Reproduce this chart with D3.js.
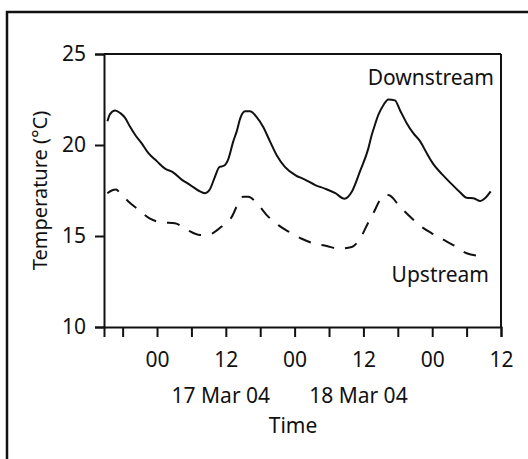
<!DOCTYPE html>
<html>
<head>
<meta charset="utf-8">
<script src="https://cdn.jsdelivr.net/npm/d3@7"></script>
<style>
  body { margin: 0; background: #fff; }
  svg text { font-family: "Noto Sans", sans-serif; fill: #111; }
</style>
</head>
<body>
<script>

// hours from 17 Mar 2004 00:00, temperature in degrees C
var downHours = [-8.65, -8.2, -7.3, -6.4, -5.6, -4.7, -3.8, -2.7, -1.5, 0.0, 1.4, 2.8, 4.3, 5.8, 7.2, 8.4,
                 9.2, 10.1, 10.9, 11.6, 12.4, 13.3, 13.9, 14.5, 15.35, 16.2, 17.35, 18.5, 19.7, 20.85,
                 22.3, 24.1, 25.8, 27.6, 29.3, 31.1, 32.7, 34.0, 35.4, 36.85, 37.45, 37.9, 38.6, 39.5,
                 40.35, 41.5, 42.4, 43.55, 44.7, 45.9, 47.05, 48.2, 49.7, 51.4, 52.85, 54.0, 55.2,
                 56.4, 57.2, 58.2];
var downTemps = [21.3, 21.7, 21.9, 21.75, 21.5, 21.0, 20.55, 20.1, 19.55, 19.1, 18.7, 18.5, 18.1, 17.8, 17.5, 17.35,
                 17.55, 18.25, 18.8, 18.85, 19.2, 20.2, 20.75, 21.45, 21.85, 21.85, 21.55, 21.0, 20.2, 19.45,
                 18.8, 18.35, 18.1, 17.8, 17.6, 17.35, 17.05, 17.45, 18.55, 19.8, 20.55, 21.0, 21.65, 22.2,
                 22.5, 22.45, 21.9, 21.2, 20.65, 20.2, 19.55, 18.95, 18.4, 17.85, 17.4, 17.1, 17.07,
                 16.92, 17.07, 17.45];

var upHours = [-8.67, -7.9, -7.15, -6.45, -5.0, -3.26, -1.22, 0.82, 3.14, 5.18, 7.5, 9.24, 11.56, 13.03,
               14.18, 15.05, 15.93, 17.67, 19.13, 21.16, 22.9, 25.24, 27.26, 29.6, 31.62, 33.96, 35.41,
               36.86, 37.73, 38.9, 39.77, 40.35, 42.39, 43.83, 46.17, 47.92, 49.94, 51.68, 54.02, 55.76];
var upTemps = [17.35, 17.5, 17.55, 17.35, 16.9, 16.45, 15.95, 15.75, 15.7, 15.35, 15.05, 15.1, 15.6, 16.05,
               16.8, 17.15, 17.15, 16.7, 16.15, 15.6, 15.25, 14.85, 14.6, 14.45, 14.3, 14.4, 14.85,
               15.75, 16.25, 16.98, 17.25, 17.25, 16.6, 16.15, 15.5, 15.15, 14.8, 14.5, 14.05, 13.92];

var yTicks = [10, 15, 20, 25];
var dateLabels = ["17 Mar 04", "18 Mar 04"];
var seriesNames = ["Downstream", "Upstream"];

var width = 528, height = 459;
var margin = {left: 104, top: 54, right: 27, bottom: 132};

var t0 = new Date(2004, 2, 17, 0, 0);
function toDate(h) { return new Date(t0.getTime() + h * 3600000); }

var svg = d3.select("body").append("svg")
    .attr("width", width)
    .attr("height", height);

// outer frame (cut off at right and bottom)
svg.append("rect")
    .attr("x", 7).attr("y", 12)
    .attr("width", 560).attr("height", 480)
    .attr("fill", "none")
    .attr("stroke", "#111")
    .attr("stroke-width", 2.5);

var x = d3.scaleTime()
    .domain([new Date(2004, 2, 16, 14, 45), new Date(2004, 2, 19, 12, 0)])
    .range([margin.left, width - margin.right]);

var y = d3.scaleLinear()
    .domain([10, 25])
    .range([height - margin.bottom, margin.top]);

var xAxis = d3.axisBottom(x)
    .ticks(d3.timeHour.every(6))
    .tickSize(10)
    .tickPadding(15)
    .tickFormat(function(d) {
        var h = d.getHours();
        return h == 0 ? "00" : (h == 12 ? "12" : "");
    });

var yAxis = d3.axisLeft(y)
    .tickValues(yTicks)
    .tickSize(9)
    .tickPadding(9);

var gx = svg.append("g")
    .attr("transform", "translate(0," + (height - margin.bottom) + ")")
    .call(xAxis);

var gy = svg.append("g")
    .attr("transform", "translate(" + margin.left + ",0)")
    .call(yAxis);

[gx, gy].forEach(function(g) {
    g.selectAll("path, line").attr("stroke", "#111").attr("stroke-width", 2);
    g.selectAll("text").style("font-size", "21px").attr("fill", "#111");
});

// top and right box lines
svg.append("line")
    .attr("x1", margin.left).attr("x2", width - margin.right)
    .attr("y1", margin.top).attr("y2", margin.top)
    .attr("stroke", "#111").attr("stroke-width", 2);
svg.append("line")
    .attr("x1", width - margin.right).attr("x2", width - margin.right)
    .attr("y1", margin.top).attr("y2", height - margin.bottom)
    .attr("stroke", "#111").attr("stroke-width", 2);

var line = d3.line()
    .x(function(d) { return x(toDate(d[0])); })
    .y(function(d) { return y(d[1]); })
    .curve(d3.curveMonotoneX);

var down = d3.zip(downHours, downTemps);
var up = d3.zip(upHours, upTemps);

svg.append("path")
    .datum(down)
    .attr("d", line)
    .attr("fill", "none")
    .attr("stroke", "#111")
    .attr("stroke-width", 2);

svg.append("path")
    .datum(up)
    .attr("d", line)
    .attr("fill", "none")
    .attr("stroke", "#111")
    .attr("stroke-width", 2)
    .attr("stroke-dasharray", "13,11");

// series labels
svg.append("text")
    .attr("x", 494).attr("y", 85)
    .attr("text-anchor", "end")
    .style("font-size", "21px")
    .text(seriesNames[0]);

svg.append("text")
    .attr("x", 489).attr("y", 282)
    .attr("text-anchor", "end")
    .style("font-size", "21px")
    .text(seriesNames[1]);

// date labels under noon ticks
svg.selectAll(".date")
    .data(dateLabels)
    .enter().append("text")
    .attr("class", "date")
    .attr("x", function(d, i) { return x(new Date(2004, 2, 17 + i, 12)) - 5; })
    .attr("y", 403)
    .attr("text-anchor", "middle")
    .style("font-size", "21px")
    .text(function(d) { return d; });

svg.append("text")
    .attr("x", 293).attr("y", 433)
    .attr("text-anchor", "middle")
    .style("font-size", "21px")
    .text("Time");

svg.append("text")
    .attr("transform", "translate(47," + ((margin.top + height - margin.bottom) / 2) + ") rotate(-90)")
    .attr("text-anchor", "middle")
    .style("font-size", "20px")
    .text("Temperature (°C)");

</script>
</body>
</html>
